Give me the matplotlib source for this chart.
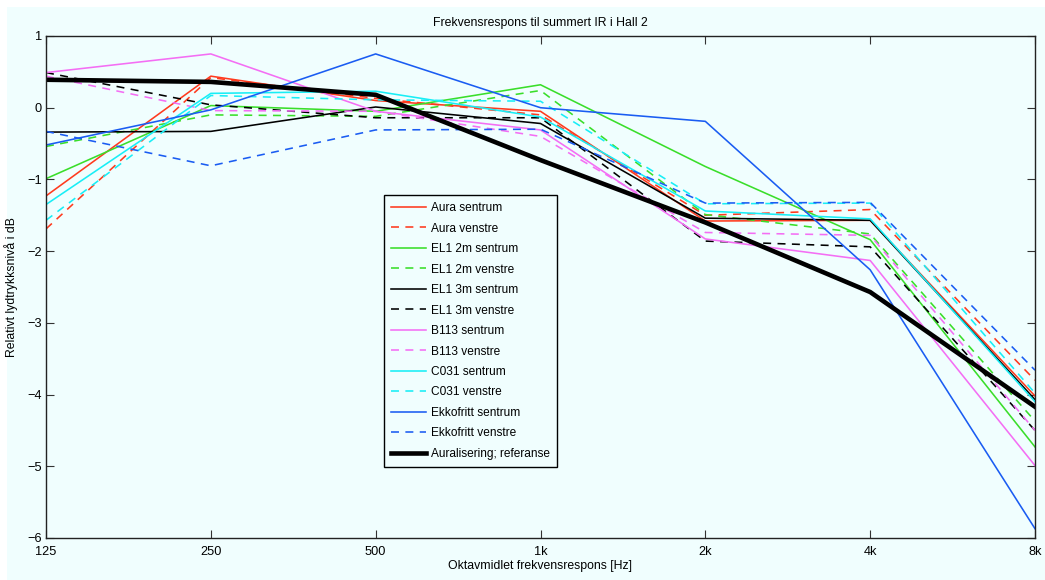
import matplotlib
matplotlib.use("Agg")
import matplotlib.pyplot as plt
from matplotlib.patches import Rectangle

plt.rcParams['font.family'] = ['Liberation Sans', 'DejaVu Sans']

freqs = [125, 250, 500, 1000, 2000, 4000, 8000]
freq_labels = ["125", "250", "500", "1k", "2k", "4k", "8k"]

aura_sentrum      = [-1.23, 0.44, 0.10, -0.05, -1.58, -1.57, -4.02]
aura_venstre      = [-1.69, 0.42, 0.13, -0.10, -1.50, -1.42, -3.80]
el1_2m_sentrum    = [-0.99, 0.03, -0.05, 0.32, -0.82, -1.84, -4.73]
el1_2m_venstre    = [-0.54, -0.10, -0.12, 0.24, -1.49, -1.76, -4.37]
el1_3m_sentrum    = [-0.34, -0.33, 0.01, -0.22, -1.54, -1.57, -4.07]
el1_3m_venstre    = [0.49, 0.04, -0.14, -0.14, -1.86, -1.94, -4.50]
b113_sentrum      = [0.49, 0.75, -0.05, -0.31, -1.83, -2.13, -4.99]
b113_venstre      = [0.44, -0.04, -0.05, -0.40, -1.74, -1.78, -4.50]
c031_sentrum      = [-1.35, 0.20, 0.23, -0.13, -1.44, -1.55, -4.10]
c031_venstre      = [-1.57, 0.17, 0.11, 0.09, -1.34, -1.33, -3.98]
ekko_sentrum      = [-0.52, -0.03, 0.75, 0.00, -0.19, -2.26, -5.87]
ekko_venstre      = [-0.33, -0.81, -0.31, -0.30, -1.33, -1.32, -3.66]
auralisering      = [0.39, 0.36, 0.18, -0.73, -1.60, -2.57, -4.17]

series_names = ["Aura sentrum", "Aura venstre", "EL1 2m sentrum", "EL1 2m venstre",
                "EL1 3m sentrum", "EL1 3m venstre", "B113 sentrum", "B113 venstre",
                "C031 sentrum", "C031 venstre", "Ekkofritt sentrum", "Ekkofritt venstre",
                "Auralisering; referanse"]
series_values = [aura_sentrum, aura_venstre, el1_2m_sentrum, el1_2m_venstre,
                 el1_3m_sentrum, el1_3m_venstre, b113_sentrum, b113_venstre,
                 c031_sentrum, c031_venstre, ekko_sentrum, ekko_venstre, auralisering]

red = '#ff3a1e'
green = '#3ade2a'
black = '#000000'
magenta = '#f46ef4'
cyan = '#18eef6'
blue = '#1a5cf2'
colors = [red, red, green, green, black, black, magenta, magenta, cyan, cyan, blue, blue, black]
styles = ['-', '--'] * 6 + ['-']
widths = [1.15] * 12 + [3.3]

bg = '#f0fefe'
fig = plt.figure(figsize=(10.45, 5.8), dpi=100, facecolor='white')
fig.patches.append(Rectangle((7 / 1045, 0), 1 - 7 / 1045, 1 - 7 / 580,
                             transform=fig.transFigure, facecolor=bg,
                             edgecolor='none', zorder=-10))
ax = fig.add_axes([46 / 1045, 42 / 580, (1035 - 46) / 1045, (538 - 36) / 580])
ax.set_facecolor(bg)

for name, vals, c, ls, lw in zip(series_names, series_values, colors, styles, widths):
    kw = {}
    if ls == '--':
        kw['dashes'] = (5, 4)
    ax.plot(freqs, vals, color=c, linestyle=ls, linewidth=lw, label=name, **kw)

ax.set_xscale('log')
ax.set_xlim(125, 8000)
ax.set_ylim(-6, 1)
ax.set_xticks(freqs)
ax.set_xticklabels(freq_labels)
ax.minorticks_off()
ax.set_yticks(range(-6, 2))
ax.set_yticklabels(["\u22126", "\u22125", "\u22124", "\u22123", "\u22122", "\u22121", "0", "1"])
ax.tick_params(axis='both', direction='in', top=True, right=True, length=6, width=0.8,
               labelsize=9.2, color='#333333')
ax.tick_params(axis='y', pad=3)
ax.tick_params(axis='x', pad=6)
for s in ax.spines.values():
    s.set_linewidth(1.0)
    s.set_color('#222222')

ax.set_title("Frekvensrespons til summert IR i Hall 2", fontsize=8.8, pad=7)
ax.set_xlabel("Oktavmidlet frekvensrespons [Hz]", fontsize=8.8, labelpad=1)
ax.set_ylabel("Relativt lydtrykksnivå i dB", fontsize=8.8)
ax.yaxis.set_label_coords((18 - 46) / 989, 0.5)

leg = ax.legend(loc='upper left', bbox_to_anchor=((384 - 46) / 989, (538 - 195) / 502),
                fontsize=8.6, handlelength=2.95, handletextpad=0.4, labelspacing=0.71,
                borderpad=0.6, fancybox=False, framealpha=1, edgecolor='black',
                borderaxespad=0)
leg.get_frame().set_facecolor(bg)
leg.get_frame().set_linewidth(1.0)

fig.savefig("out.png", dpi=100, facecolor=fig.get_facecolor())
